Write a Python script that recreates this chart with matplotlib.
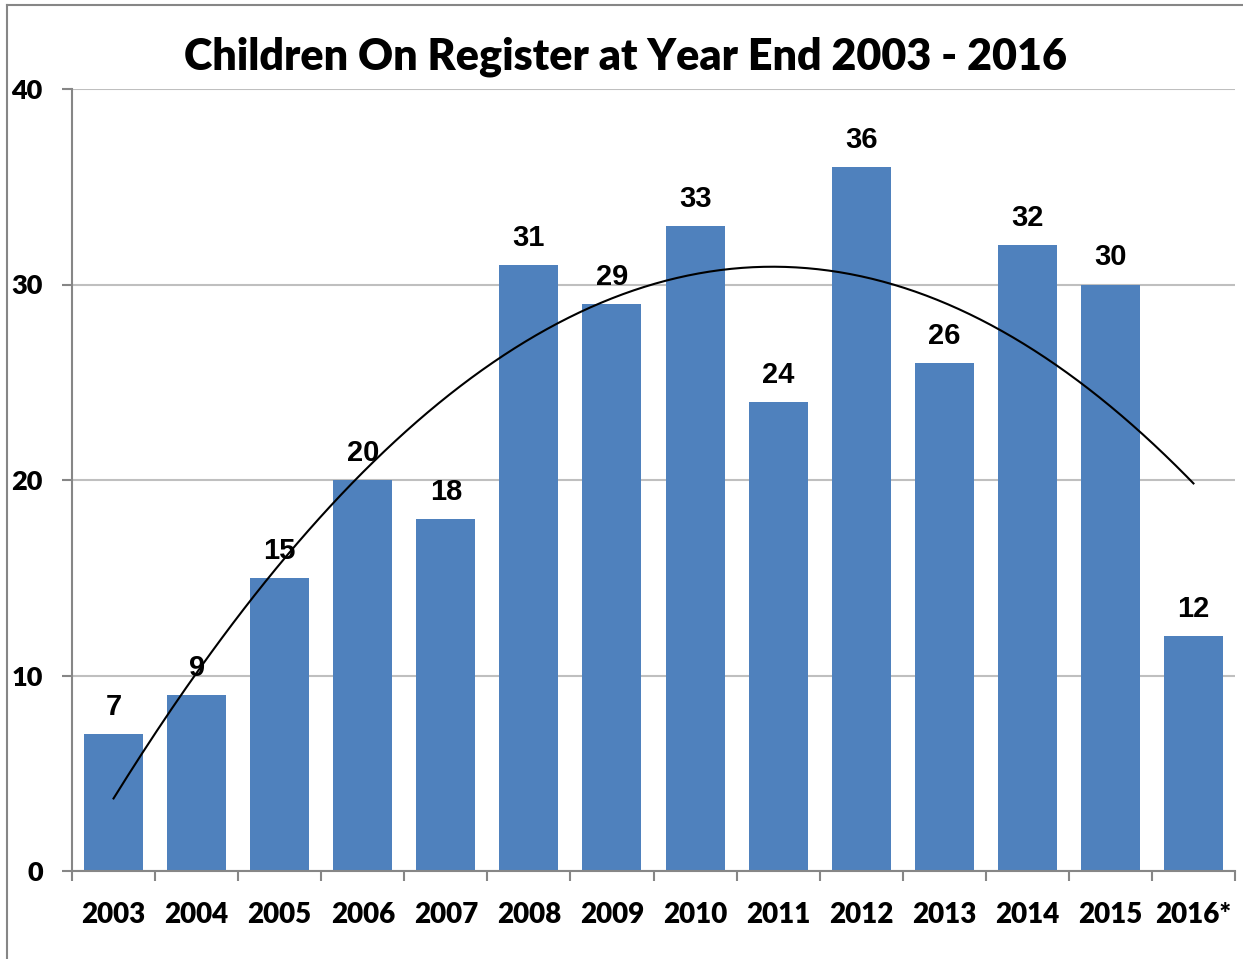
import numpy as np
import matplotlib
matplotlib.use("Agg")
import matplotlib.pyplot as plt

years = ["2003", "2004", "2005", "2006", "2007", "2008", "2009", "2010",
         "2011", "2012", "2013", "2014", "2015", "2016*"]
values = [7, 9, 15, 20, 18, 31, 29, 33, 24, 36, 26, 32, 30, 12]
title = "Children On Register at Year End 2003 - 2016"
yticks = [0, 10, 20, 30, 40]

bar_color = "#4F81BD"
tick_font = ["Lato", "DejaVu Sans"]
label_font = ["Liberation Sans", "DejaVu Sans"]
W = "heavy"

fig = plt.figure(figsize=(12.43, 9.59), dpi=100)
ax = fig.add_axes([72/1243, 1-871/959, (1235-72)/1243, (871-89)/959])

x = np.arange(len(values))
ax.bar(x, values, width=0.71, color=bar_color, zorder=2)

# polynomial (order 2) trendline as in the spreadsheet
coef = np.polyfit(x + 1, values, 2)
xs = np.linspace(1, len(values), 300)
ax.plot(xs - 1, np.polyval(coef, xs), color="black", lw=1.5, zorder=4)

for xi, v in zip(x, values):
    ax.annotate(str(v), (xi, v), xytext=(0, 9.5), textcoords="offset points",
                ha="center", va="bottom", fontsize=21, fontweight="bold",
                family=label_font, zorder=5)

ax.set_xlim(-0.5, len(values) - 0.5)
ax.set_ylim(0, 40)
ax.set_yticks(yticks)
ax.set_yticklabels([str(t) for t in yticks], fontsize=19.5, fontweight=W,
                   family=tick_font)
ax.yaxis.grid(True, color="#BFBFBF", lw=1.5, zorder=0)
ax.set_axisbelow(True)

ax.set_xticks(x)
ax.set_xticklabels(years, fontsize=20, fontweight=W, family=tick_font)
ax.tick_params(axis="x", length=0, pad=22)
ax.set_xticks(np.arange(-0.5, len(values), 1), minor=True)
ax.tick_params(axis="x", which="minor", length=7, width=1.5, color="#868686")
ax.tick_params(axis="y", length=7, width=1.5, color="#868686", pad=14)

for s in ["top", "right"]:
    ax.spines[s].set_visible(False)
for s in ["left", "bottom"]:
    ax.spines[s].set_color("#868686")
    ax.spines[s].set_linewidth(1.5)

fig.text(626/1243, 1-57/959, title, ha="center", va="center", fontsize=31,
         fontweight=W, family=tick_font)

# outer chart border (top and left visible)
fig.add_artist(plt.Line2D([7/1243, 7/1243], [0, 1-5/959], transform=fig.transFigure,
                          color="#868686", lw=1.5))
fig.add_artist(plt.Line2D([7/1243, 1], [1-5/959, 1-5/959], transform=fig.transFigure,
                          color="#868686", lw=1.5))

fig.savefig("out.png", dpi=100)
